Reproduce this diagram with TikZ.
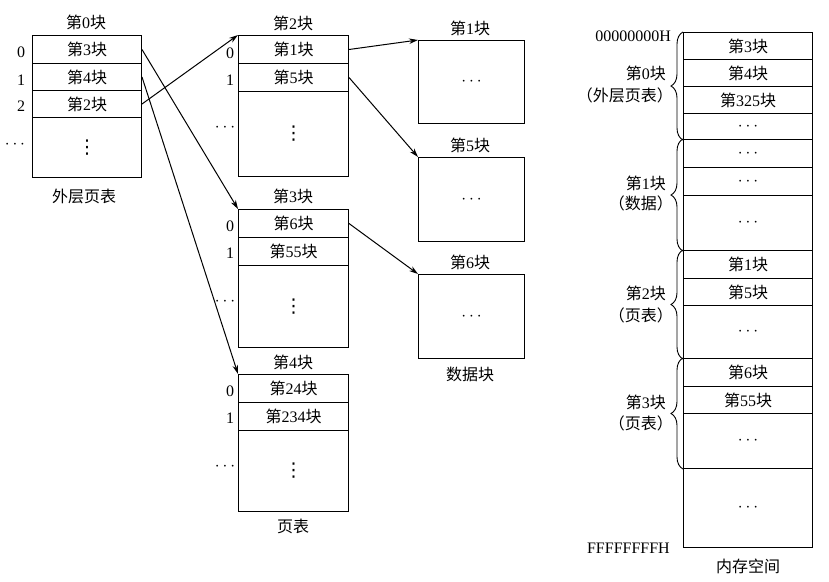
\documentclass[tikz,border=0pt]{standalone}
\usepackage{fontspec}
\setmainfont{Liberation Serif}
\newfontfamily\cjk{Noto Sans CJK SC}
\newfontfamily\dv{DejaVu Sans}
\usetikzlibrary{arrows.meta,decorations.pathreplacing}
\newcommand\zh[1]{{\cjk #1}}
\newcommand\blk[1]{\zh{第}#1\zh{块}}
\newcommand\vd{{\dv\fontsize{19}{20}\selectfont ⋮}}
\newcommand\hd{$\cdots$}
\begin{document}
\begin{tikzpicture}[x=1pt,y=-1pt,
  every node/.style={font=\fontsize{16}{18}\selectfont, inner sep=0pt},
  cell/.style={draw, line width=1pt, anchor=north west, align=center},
  arr/.style={line width=1pt, -{Stealth[length=9pt,width=5.5pt]}},
  brc/.style={line width=0.9pt, decorate, decoration={brace, amplitude=12pt}},
  lbl/.style={anchor=center}]
\useasboundingbox (0,0) rectangle (829,581);
% outer page table
\node[cell, minimum width=109pt, minimum height=28pt] (o0) at (32,35) {\blk{3}};
\node[cell, minimum width=109pt, minimum height=27pt] (o1) at (32,63) {\blk{4}};
\node[cell, minimum width=109pt, minimum height=27pt] (o2) at (32,90) {\blk{2}};
\node[cell, minimum width=109pt, minimum height=60pt] (o3) at (32,117) {\vd};
\node[lbl] (ot) at (86,22) {\blk{0}};
\node[lbl] (ob) at (84,196) {\zh{外层页表}};
\node[lbl] (on0) at (21,52) {0};
\node[lbl] (on1) at (21,80) {1};
\node[lbl] (on2) at (21,106) {2};
\node[lbl] (on3) at (15,145) {\hd};
% page table 2
\node[cell, minimum width=110pt, minimum height=28pt] (a0) at (238,35) {\blk{1}};
\node[cell, minimum width=110pt, minimum height=28pt] (a1) at (238,63) {\blk{5}};
\node[cell, minimum width=110pt, minimum height=85pt] (a2) at (238,91) {\vd};
\node[lbl] (at) at (293,23) {\blk{2}};
\node[lbl] (an0) at (230,53) {0};
\node[lbl] (an1) at (230,80) {1};
\node[lbl] (an2) at (225,128) {\hd};
% page table 3
\node[cell, minimum width=110pt, minimum height=28pt] (b0) at (238,209) {\blk{6}};
\node[cell, minimum width=110pt, minimum height=28pt] (b1) at (238,237) {\blk{55}};
\node[cell, minimum width=110pt, minimum height=82pt] (b2) at (238,265) {\vd};
\node[lbl] (bt) at (293,196) {\blk{3}};
\node[lbl] (bn0) at (230,226) {0};
\node[lbl] (bn1) at (230,253) {1};
\node[lbl] (bn2) at (225,302) {\hd};
% page table 4
\node[cell, minimum width=110pt, minimum height=28pt] (c0) at (238,374) {\blk{24}};
\node[cell, minimum width=110pt, minimum height=28pt] (c1) at (238,402) {\blk{234}};
\node[cell, minimum width=110pt, minimum height=81pt] (c2) at (238,430) {\vd};
\node[lbl] (ct) at (293,362) {\blk{4}};
\node[lbl] (cn0) at (230,391) {0};
\node[lbl] (cn1) at (230,418) {1};
\node[lbl] (cn2) at (225,467) {\hd};
\node[lbl] (cb) at (293,526) {\zh{页表}};
% data blocks
\node[cell, minimum width=106pt, minimum height=83pt] (d1) at (418,40) {\hd};
\node[cell, minimum width=106pt, minimum height=84pt] (d5) at (418,157) {\hd};
\node[cell, minimum width=106pt, minimum height=84pt] (d6) at (418,274) {\hd};
\node[lbl] (d1t) at (470,28) {\blk{1}};
\node[lbl] (d5t) at (470,145) {\blk{5}};
\node[lbl] (d6t) at (470,262) {\blk{6}};
\node[lbl] (db) at (470,374) {\zh{数据块}};
% arrows
\draw[arr] (o0.east) -- (b0.north west);
\draw[arr] (o1.east) -- (c0.north west);
\draw[arr] (o2.east) -- (a0.north west);
\draw[arr] (a0.east) -- (d1.north west);
\draw[arr] (a1.east) -- (d5.north west);
\draw[arr] (b0.east) -- (d6.north west);
% memory space
\node[cell, minimum width=129pt, minimum height=27pt] (m1) at (683,32) {\blk{3}};
\node[cell, minimum width=129pt, minimum height=27pt] (m2) at (683,59) {\blk{4}};
\node[cell, minimum width=129pt, minimum height=27pt] (m3) at (683,86) {\blk{325}};
\node[cell, minimum width=129pt, minimum height=26pt] (m4) at (683,113) {\hd};
\node[cell, minimum width=129pt, minimum height=28pt] (m5) at (683,139) {\hd};
\node[cell, minimum width=129pt, minimum height=28pt] (m6) at (683,167) {\hd};
\node[cell, minimum width=129pt, minimum height=55pt] (m7) at (683,195) {\hd};
\node[cell, minimum width=129pt, minimum height=28pt] (m8) at (683,250) {\blk{1}};
\node[cell, minimum width=129pt, minimum height=27pt] (m9) at (683,278) {\blk{5}};
\node[cell, minimum width=129pt, minimum height=53pt] (m10) at (683,305) {\hd};
\node[cell, minimum width=129pt, minimum height=28pt] (m11) at (683,358) {\blk{6}};
\node[cell, minimum width=129pt, minimum height=27pt] (m12) at (683,386) {\blk{55}};
\node[cell, minimum width=129pt, minimum height=55pt] (m13) at (683,413) {\hd};
\node[cell, minimum width=129pt, minimum height=79pt] (m14) at (683,468) {\hd};
% braces
\draw[brc] (m4.south west) -- (m1.north west);
\draw[brc] (m7.south west) -- (m5.north west);
\draw[brc] (m10.south west) -- (m8.north west);
\draw[brc] (m13.south west) -- (m11.north west);
\node[anchor=east] (addr0) at (671,36) {00000000H};
\node[anchor=east] (addrF) at (670,548) {FFFFFFFFH};
\node[anchor=east] (g0a) at (666,73) {\blk{0}};
\node[anchor=east] (g0b) at (673,95) {\zh{（外层页表）}};
\node[anchor=east] (g1a) at (666,183) {\blk{1}};
\node[anchor=east] (g1b) at (673,203) {\zh{（数据）}};
\node[anchor=east] (g2a) at (666,293) {\blk{2}};
\node[anchor=east] (g2b) at (673,315) {\zh{（页表）}};
\node[anchor=east] (g3a) at (666,402) {\blk{3}};
\node[anchor=east] (g3b) at (673,423) {\zh{（页表）}};
\node[lbl] (mt) at (748,566) {\zh{内存空间}};
\end{tikzpicture}
\end{document}
